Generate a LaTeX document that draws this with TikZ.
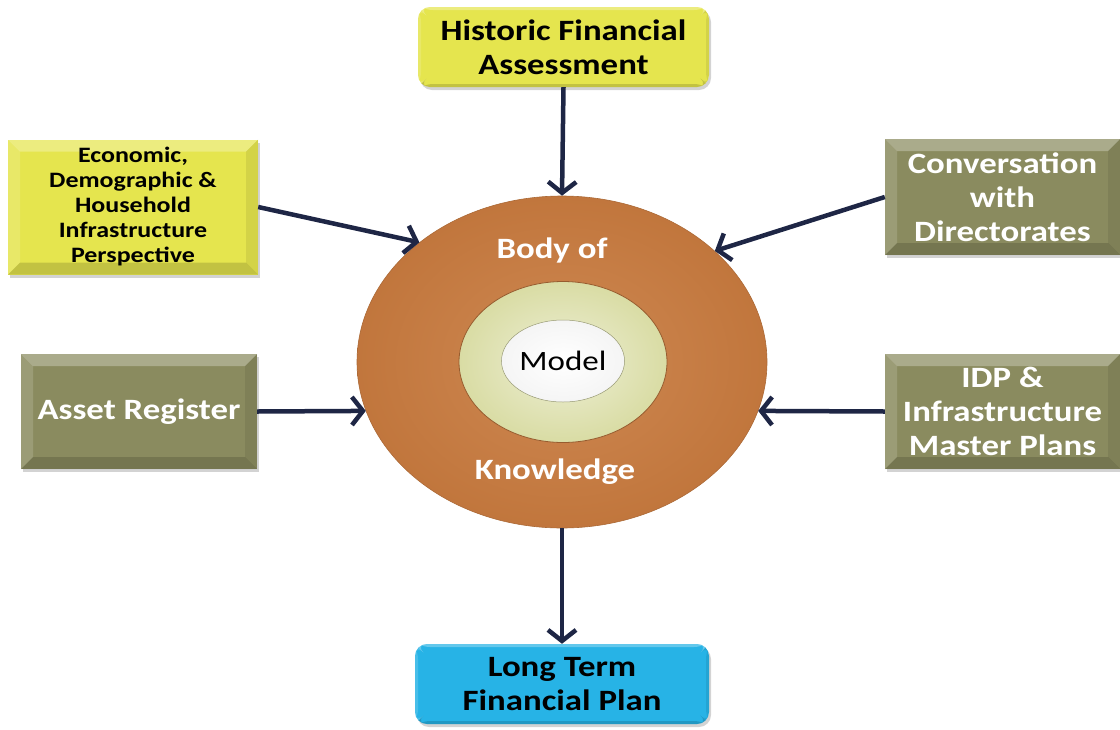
\documentclass[tikz,border=0pt]{standalone}
\usepackage{fontspec}
\setmainfont{Carlito}[FakeStretch=1.18]
\usetikzlibrary{shapes.geometric,arrows.meta,shadows}
\definecolor{arrowc}{HTML}{1E2645}
\definecolor{yel}{HTML}{E5E54E}
\definecolor{olive}{HTML}{8A8B5F}
\definecolor{cyanbox}{HTML}{27B3E6}
\definecolor{ringo}{HTML}{C97B3F}
\definecolor{ringi}{HTML}{D9DCA4}
\tikzset{
  bevel/.style={path picture={
     \fill[white,opacity=0.28] (path picture bounding box.north west) -- (path picture bounding box.north east)
        -- ([xshift=-#1,yshift=-#1]path picture bounding box.north east) -- ([xshift=#1,yshift=-#1]path picture bounding box.north west) -- cycle;
     \fill[white,opacity=0.15] (path picture bounding box.north west) -- (path picture bounding box.south west)
        -- ([xshift=#1,yshift=#1]path picture bounding box.south west) -- ([xshift=#1,yshift=-#1]path picture bounding box.north west) -- cycle;
     \fill[black,opacity=0.15] (path picture bounding box.south west) -- (path picture bounding box.south east)
        -- ([xshift=-#1,yshift=#1]path picture bounding box.south east) -- ([xshift=#1,yshift=#1]path picture bounding box.south west) -- cycle;
     \fill[black,opacity=0.08] (path picture bounding box.north east) -- (path picture bounding box.south east)
        -- ([xshift=-#1,yshift=#1]path picture bounding box.south east) -- ([xshift=-#1,yshift=-#1]path picture bounding box.north east) -- cycle;
  }},
  box/.style={rectangle, align=center, inner sep=2pt,
     drop shadow={shadow xshift=2pt,shadow yshift=-3pt,opacity=0.35}},
  bigtext/.style={font=\bfseries\fontsize{29.5}{34}\selectfont},
  yelbox/.style={box, fill=yel, text=black},
  olivebox/.style={box, fill=olive, text=white},
  conn/.style={draw=arrowc, line width=4.5pt, -{Straight Barb[length=11pt,width=28pt,line width=4.5pt]}},
}
\begin{document}
\begin{tikzpicture}[x=1pt,y=-1pt]
\useasboundingbox (0,0) rectangle (1120,729);
% ring
\node[ellipse, minimum width=410pt, minimum height=332pt, inner sep=0pt,
      inner color=ringo!90!white, outer color=ringo!96!black, draw=ringo!85!black, line width=0.6pt] (body) at (562,362) {};
\node[ellipse, minimum width=208pt, minimum height=161pt, inner sep=0pt,
      inner color=ringi!45!white, outer color=ringi, draw=ringo!75!black, line width=0.8pt] (ring) at (563,362) {};
\node[ellipse, minimum width=102pt, minimum height=82pt, inner sep=0pt,
      inner color=white, outer color=white!96!black, draw=ringi!70!black, line width=0.5pt,
      font=\fontsize{28}{32}\selectfont] (model) at (563,361) {Model};
\node[text=white, bigtext] (bodyof) at (552,250) {Body of};
\node[text=white, bigtext] (knowledge) at (555,472) {Knowledge};
% boxes
\node[yelbox, bevel=3pt, rounded corners=12pt, minimum width=291pt, minimum height=80pt,
      bigtext] (hist) at (563.5,47) {Historic Financial\\Assessment};
\node[yelbox, bevel=12pt, minimum width=250pt, minimum height=135pt,
      font=\bfseries\fontsize{22}{25}\selectfont] (eco) at (133,207) {Economic,\\Demographic \&\\Household\\Infrastructure\\Perspective};
\node[olivebox, bevel=12pt, minimum width=235pt, minimum height=116pt,
      bigtext] (conv) at (1002.5,197) {Conversation\\with\\Directorates};
\node[olivebox, bevel=12pt, minimum width=236pt, minimum height=115pt,
      bigtext] (asset) at (139,411.5) {Asset Register};
\node[olivebox, bevel=12pt, minimum width=235pt, minimum height=115pt,
      bigtext] (idp) at (1002.5,411.5) {IDP \&\\Infrastructure\\Master Plans};
\node[box, fill=cyanbox, text=black, bevel=3pt, rounded corners=12pt, minimum width=294pt, minimum height=80pt,
      bigtext] (ltfp) at (562,684) {Long Term\\Financial Plan};
% connectors
\draw[conn] (hist.south) -- (body.north);
\draw[conn] (eco.east) -- (body.140.6);
\draw[conn] (conv.west) -- (body.36.4);
\draw[conn] (asset.east) -- (body.194);
\draw[conn] (idp.west) -- (body.346);
\draw[conn] (body.south) -- (ltfp.north);
\end{tikzpicture}
\end{document}
